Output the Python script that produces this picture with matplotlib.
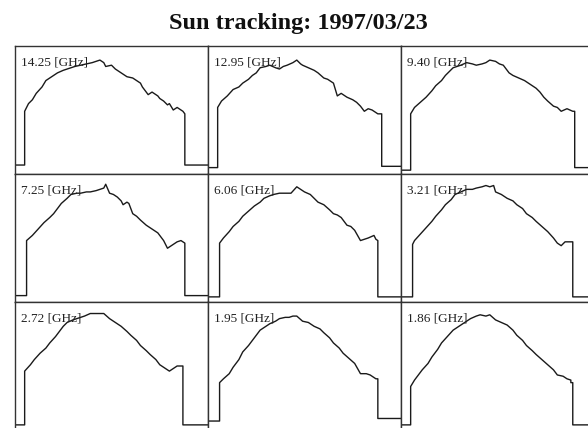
import matplotlib.pyplot as plt

# received power (percent of panel range) vs. time (percent of tracking window)
freqs = ['14.25', '12.95', '9.40', '7.25', '6.06', '3.21', '2.72', '1.95', '1.86']

x1 = [0, 5, 5, 7, 9, 11, 14, 16, 19, 22, 25, 27, 31, 34, 37, 40, 42, 44, 46, 47, 50, 52, 54, 56, 58, 61, 63, 65,
      66, 67, 69, 71, 72, 74, 75, 77, 79, 80, 82, 84, 85, 87, 88, 88, 100]
y1 = [7, 7, 49, 55, 58, 63, 68, 73, 76, 79, 81, 82, 84, 85, 86, 87, 88, 89, 87, 84, 85, 82, 80, 78, 76, 75, 73, 71,
      68, 66, 62, 64, 63, 61, 59, 57, 54, 55, 50, 52, 51, 49, 47, 7, 7]

x2 = [0, 5, 5, 7, 10, 13, 16, 18, 21, 23, 25, 27, 30, 32, 35, 37, 39, 41, 44, 46, 48, 49, 52, 55, 57, 60, 62, 65,
      67, 69, 72, 75, 77, 79, 81, 83, 85, 87, 88, 90, 90, 100]
y2 = [5, 5, 52, 57, 61, 66, 68, 71, 74, 77, 79, 83, 84, 85, 83, 82, 84, 85, 87, 89, 86, 85, 83, 81, 79, 75, 74, 71,
      61, 63, 60, 58, 56, 53, 49, 51, 50, 48, 47, 47, 6, 6]

x3 = [0, 5, 5, 7, 10, 13, 16, 18, 21, 23, 25, 27, 31, 34, 37, 39, 42, 44, 46, 49, 51, 53, 56, 58, 61, 64, 67, 70,
      72, 74, 76, 79, 81, 83, 86, 89, 90, 90, 100]
y3 = [3, 3, 47, 52, 56, 60, 65, 69, 73, 77, 80, 83, 85, 87, 86, 85, 86, 87, 89, 88, 86, 85, 79, 77, 75, 73, 70, 67,
      64, 60, 57, 53, 52, 49, 51, 49, 49, 5, 5]

x4 = [0, 6, 6, 9, 12, 15, 18, 20, 22, 24, 27, 29, 32, 34, 37, 39, 42, 44, 46, 47, 49, 51, 53, 55, 56, 58, 59, 61,
      63, 65, 68, 71, 74, 77, 79, 82, 84, 86, 88, 88, 100]
y4 = [5, 5, 48, 52, 57, 62, 66, 69, 73, 77, 81, 84, 85, 85, 86, 86, 87, 88, 89, 92, 85, 84, 82, 79, 76, 78, 77, 69,
      67, 64, 60, 57, 54, 48, 42, 45, 47, 48, 46, 5, 5]

x5 = [0, 6, 6, 8, 11, 13, 16, 18, 21, 24, 27, 29, 32, 34, 37, 39, 43, 46, 48, 50, 53, 55, 57, 60, 63, 65, 67, 69,
      72, 74, 76, 79, 81, 83, 86, 87, 88, 88, 100]
y5 = [4, 4, 46, 50, 55, 59, 63, 67, 71, 75, 78, 81, 83, 84, 85, 85, 85, 90, 88, 86, 84, 81, 78, 76, 72, 69, 68, 66,
      60, 59, 56, 48, 49, 50, 52, 49, 48, 4, 4]

x6 = [0, 6, 6, 7, 10, 13, 16, 18, 21, 23, 26, 28, 31, 34, 37, 39, 42, 44, 46, 48, 49, 52, 55, 58, 60, 63, 65, 68,
      70, 73, 76, 79, 81, 83, 85, 89, 89, 100]
y6 = [4, 4, 45, 48, 53, 58, 63, 67, 72, 76, 80, 84, 86, 88, 88, 89, 90, 91, 90, 91, 86, 84, 81, 79, 76, 73, 69, 66,
      63, 59, 55, 50, 46, 44, 47, 47, 4, 4]

x7 = [0, 5, 5, 8, 10, 13, 16, 18, 21, 23, 25, 27, 30, 32, 36, 39, 43, 46, 49, 52, 55, 58, 60, 63, 65, 68, 70, 73,
      75, 78, 80, 82, 84, 87, 87, 100]
y7 = [4, 4, 46, 51, 55, 60, 64, 68, 73, 77, 81, 84, 86, 87, 89, 91, 91, 91, 87, 84, 81, 77, 74, 70, 66, 62, 59, 55,
      51, 48, 46, 48, 50, 50, 4, 4]

x8 = [0, 6, 6, 8, 11, 13, 16, 18, 21, 23, 25, 27, 30, 32, 35, 37, 40, 42, 44, 46, 49, 52, 55, 58, 60, 63, 65, 68,
      70, 73, 76, 79, 82, 84, 87, 88, 88, 100]
y8 = [7, 7, 37, 40, 44, 49, 55, 61, 66, 70, 74, 78, 81, 83, 85, 87, 88, 88, 89, 89, 85, 84, 81, 79, 76, 72, 68, 64,
      60, 56, 52, 44, 44, 43, 40, 40, 9, 9]

x9 = [0, 5, 5, 7, 9, 11, 14, 16, 19, 21, 24, 27, 30, 32, 34, 36, 39, 41, 44, 46, 49, 52, 55, 58, 60, 63, 65, 68,
      70, 73, 76, 79, 81, 84, 86, 88, 88, 89, 89, 100]
y9 = [4, 4, 34, 39, 43, 47, 52, 57, 63, 68, 73, 78, 81, 83, 85, 87, 89, 90, 89, 90, 86, 84, 82, 78, 74, 70, 66, 62,
      59, 55, 51, 47, 43, 42, 40, 39, 37, 37, 4, 4]

xs = [x1, x2, x3, x4, x5, x6, x7, x8, x9]
ys = [y1, y2, y3, y4, y5, y6, y7, y8, y9]

W, H = 588, 428
fig = plt.figure(figsize=(W / 100, H / 100), dpi=100)
fig.patch.set_facecolor('white')

fig.text(0.507, 0.945, 'Sun tracking: 1997/03/23', ha='center', va='center',
         fontsize=17.5, fontweight='bold', family='Liberation Serif', color='#111111')

# 3x3 panels butted together; last column/row run off the page edge
col_left = [15, 208, 401]
row_top = [46, 174, 302]
pw, ph = 193, 128

for i in range(9):
    r, c = divmod(i, 3)
    ax = fig.add_axes([col_left[c] / W, 1 - (row_top[r] + ph) / H, pw / W, ph / H])
    ax.plot(xs[i], ys[i], color='#1a1a1a', lw=1.0)
    ax.set_xlim(0, 100)
    ax.set_ylim(0, 100)
    ax.set_xticks([])
    ax.set_yticks([])
    for s in ax.spines.values():
        s.set_color('#333333')
        s.set_linewidth(1.0)
    ax.text(0.03, 0.87, freqs[i] + ' [GHz]', transform=ax.transAxes,
            ha='left', va='center', fontsize=9.5, family='Liberation Serif',
            color='#222222')

fig.savefig('out.png', dpi=100, facecolor='white')
